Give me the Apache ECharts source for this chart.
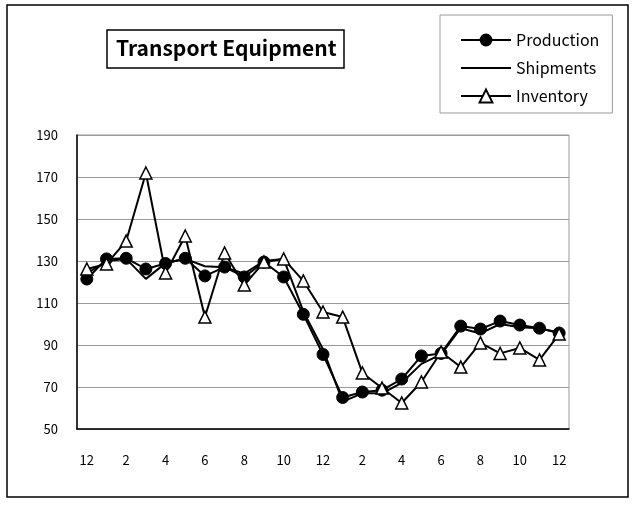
<!DOCTYPE html>
<html><head><meta charset="utf-8">
<script src="https://cdn.jsdelivr.net/npm/echarts@6/dist/echarts.min.js"></script>
<style>html,body{margin:0;padding:0;background:#fff}#c{width:635px;height:505px}</style>
</head><body><div id="c"></div>
<script>
const categories = ['12','1','2','3','4','5','6','7','8','9','10','11','12','1','2','3','4','5','6','7','8','9','10','11','12'];
const production = [121.4,131,131.3,126.2,128.8,131.3,122.9,127.1,122.4,129.5,122.4,104.6,85.5,65,67.6,68.5,73.8,84.8,86,99,97.6,101.4,99.5,98,95.7];
const shipments  = [124,130,131,121.5,129,131,127.5,127,124,130,131,106,88,63,67,67,72,81,85.5,98,95.5,100,98.5,98,95.8];
const inventory  = [126.2,128.6,139.5,171.9,124.3,141.9,103.3,133.8,118.6,129.5,131,120.5,105.7,103.3,76.7,69.5,62.4,72.4,86.7,79.5,91,86,88.6,82.9,95.2];
const yTicks = {min:50, max:190, interval:20};

const font = '"Noto Sans CJK JP", "DejaVu Sans", sans-serif';
const chart = echarts.init(document.getElementById('c'), null, {renderer:'canvas'});
chart.setOption({
  animation:false,
  backgroundColor:'#fff',
  graphic:[{type:'rect', shape:{x:7,y:5,width:621,height:492}, style:{fill:'none', stroke:'#000', lineWidth:1.5}, silent:true, z:-1}],
  title:{text:'Transport Equipment', left:107, top:30, padding:[6,8,7,9], borderColor:'#000', borderWidth:1.5,
    textStyle:{fontFamily:font, fontSize:21, fontWeight:'bold', color:'#000', lineHeight:25}},
  legend:{orient:'vertical', left:440, top:15, padding:[17,13,9,20], itemGap:12, itemWidth:50, itemHeight:16,
    borderColor:'#999', borderWidth:1, textStyle:{fontFamily:font, fontSize:16, color:'#000'},
    data:[
      {name:'Production'},
      {name:'Shipments', itemStyle:{color:'rgba(0,0,0,0)', borderColor:'rgba(0,0,0,0)', borderWidth:0}},
      {name:'Inventory'}
    ]},
  grid:{left:77, top:135, right:66, bottom:76, show:true, borderColor:'#999', borderWidth:1},
  xAxis:{type:'category', data:categories, boundaryGap:true,
    axisLine:{lineStyle:{color:'#000', width:1.5}},
    axisTick:{interval:1, length:-4, lineStyle:{color:'#999'}},
    axisLabel:{interval:1, margin:25, fontFamily:font, fontSize:13, color:'#000'}},
  yAxis:{type:'value', min:yTicks.min, max:yTicks.max, interval:yTicks.interval,
    axisLine:{show:true, lineStyle:{color:'#000', width:1.5}}, axisTick:{show:false},
    splitLine:{lineStyle:{color:'#999', width:1}},
    axisLabel:{margin:19, fontFamily:font, fontSize:13, color:'#000'}},
  series:[
    {name:'Production', type:'line', data:production, symbol:'circle', symbolSize:12,
      lineStyle:{color:'#000', width:2}, itemStyle:{color:'#000', borderColor:'#000'}, z:3},
    {name:'Shipments', type:'line', data:shipments, symbol:'none', showSymbol:false,
      lineStyle:{color:'#000', width:2}, itemStyle:{color:'#000'}, z:2},
    {name:'Inventory', type:'line', data:inventory, symbol:'triangle', symbolSize:12,
      lineStyle:{color:'#000', width:2}, itemStyle:{color:'#fff', borderColor:'#000', borderWidth:1.5}, z:4}
  ]
});
</script></body></html>
